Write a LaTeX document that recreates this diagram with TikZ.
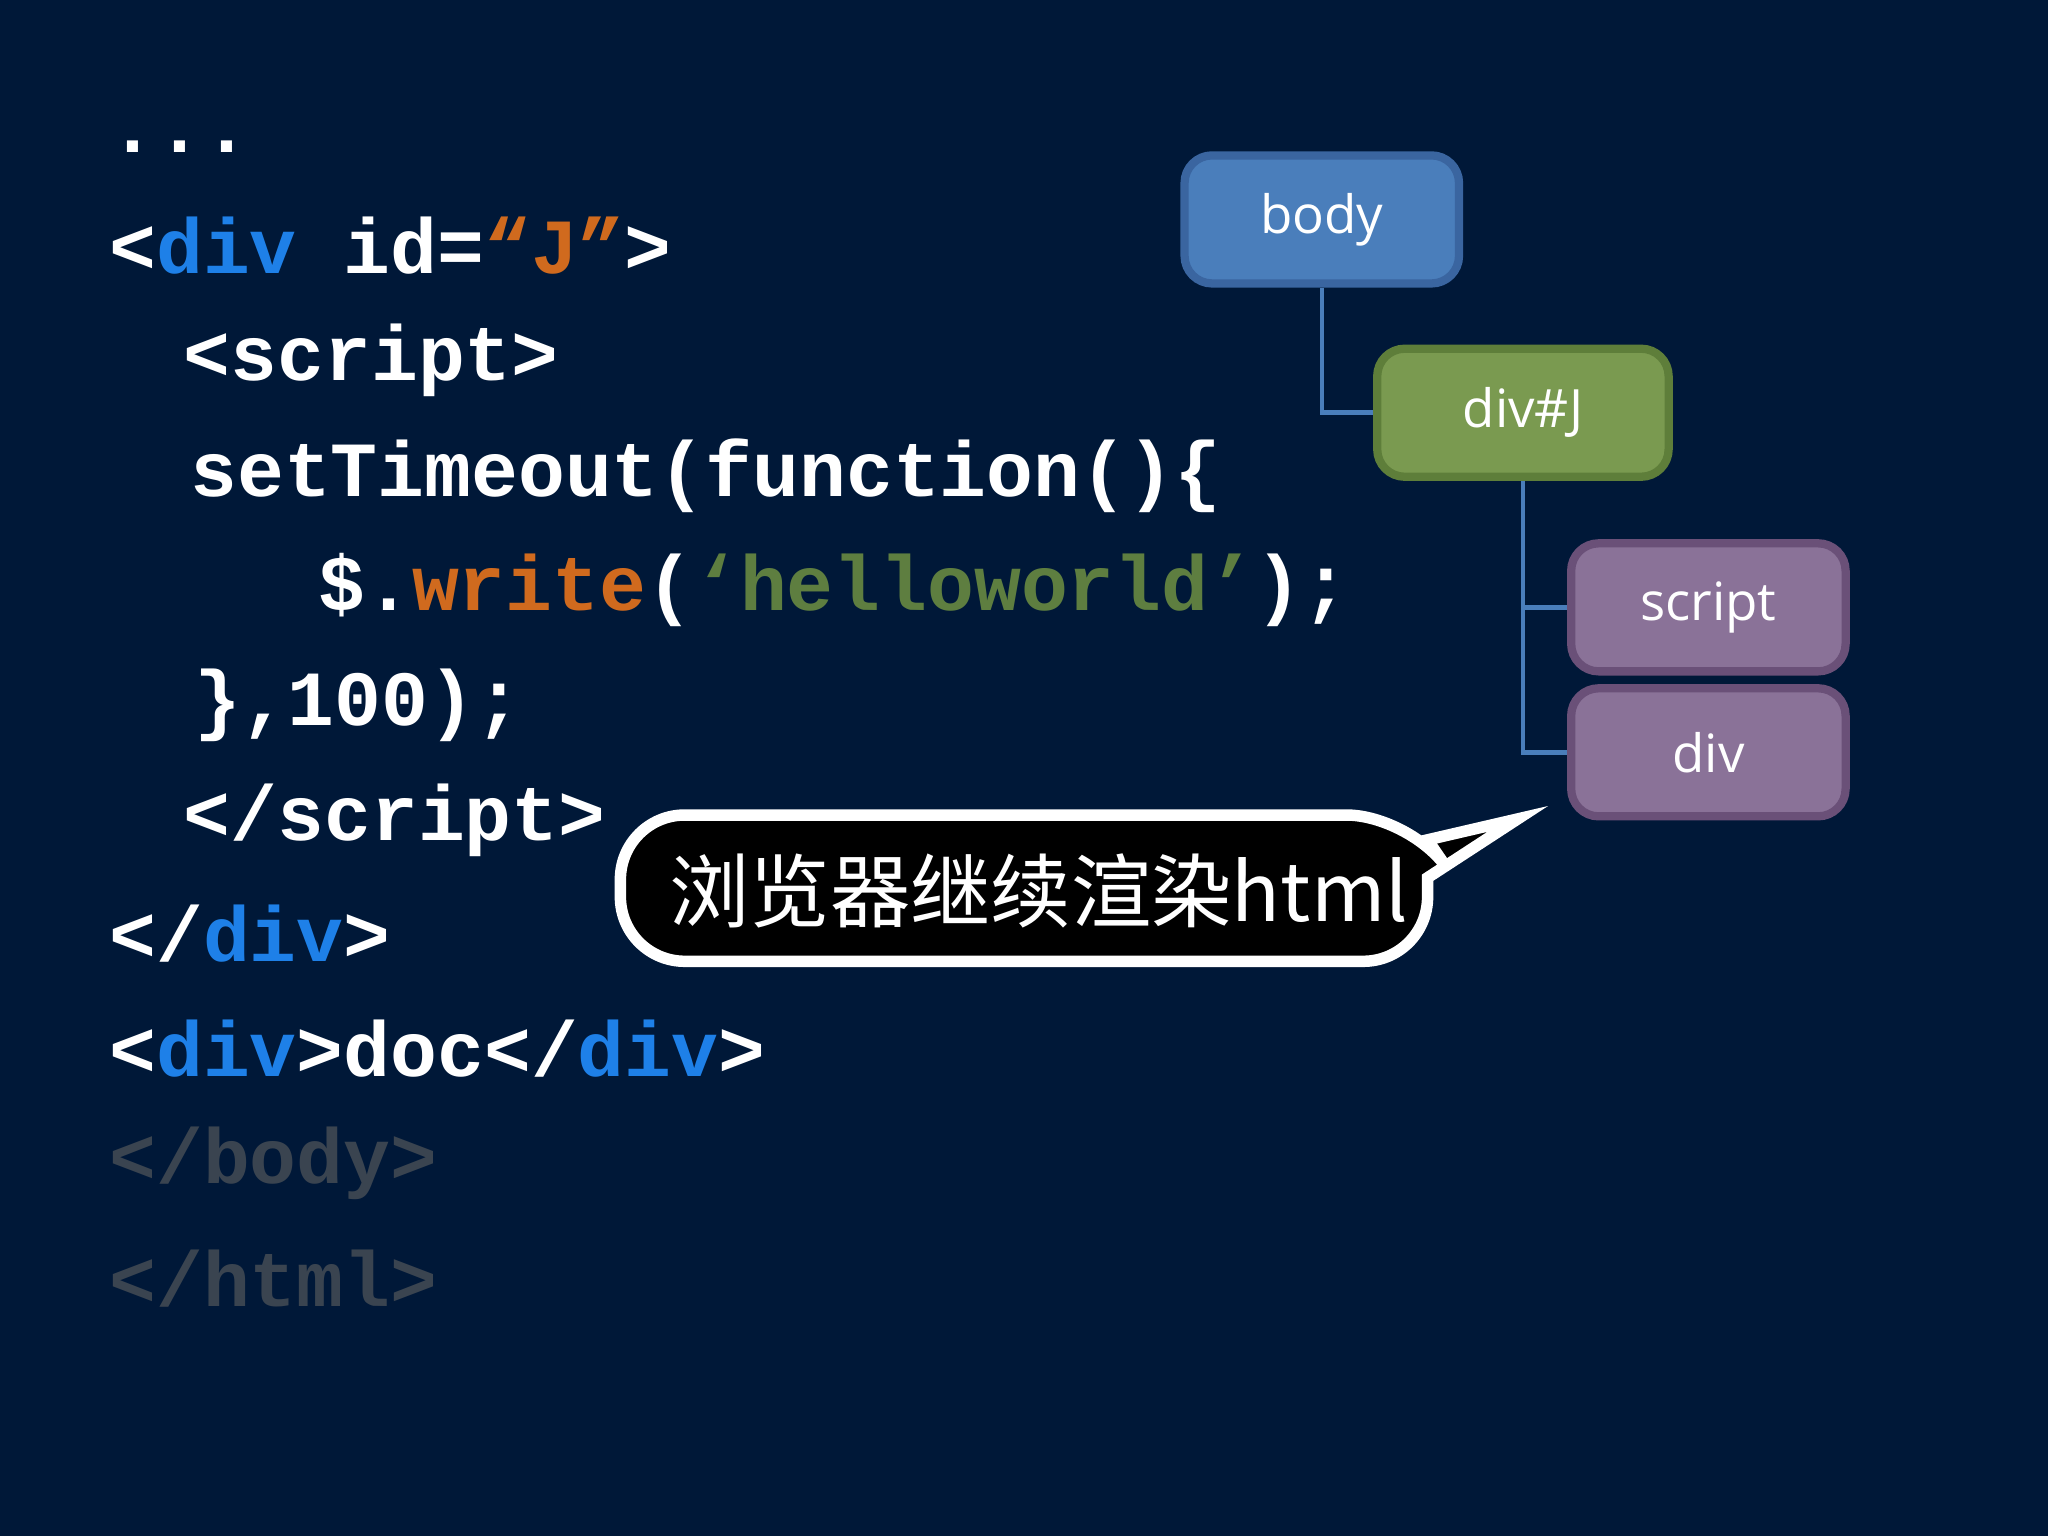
\documentclass[tikz,border=0pt]{standalone}
\usepackage{fontspec}
\setmonofont{Liberation Mono}
\setsansfont{Open Sans}
\newfontfamily\cjk{Noto Sans CJK SC}
\definecolor{bg}{HTML}{001838}
\definecolor{kwblue}{HTML}{1E80E8}
\definecolor{kworange}{HTML}{D06A1E}
\definecolor{kwgreen}{HTML}{5E7E40}
\definecolor{dimgray}{HTML}{3A4450}
\definecolor{bodyfill}{HTML}{4A7EBB}
\definecolor{bodyline}{HTML}{3A65A0}
\definecolor{jfill}{HTML}{7A9A50}
\definecolor{jline}{HTML}{5E7E3A}
\definecolor{pfill}{HTML}{8A7298}
\definecolor{pline}{HTML}{6A5078}
\begin{document}
\begin{tikzpicture}[x=0.01cm,y=-0.01cm,
  code/.style={anchor=west,inner sep=0,text=white,font=\ttfamily\bfseries\fontsize{17}{20}\selectfont},
  tbox/.style={draw,line width=1.8pt,rounded corners=6pt,minimum width=2.1cm,minimum height=0.98cm,text=white,font=\sffamily\fontsize{11.5}{14}\selectfont},
  link/.style={draw=bodyfill,line width=1pt}]
\fill[bg] (0,0) rectangle (1568,1176);
\node[code] (l0) at (83,112) {...};
\node[code] (l1) at (83,188) {<\textcolor{kwblue}{div} id=\textcolor{kworange}{“J”}>};
\node[code] (l2) at (140,276) {<script>};
\node[code] (l3) at (145,364) {setTimeout(function()\{};
\node[code] (l4) at (243,452) {\$.\textcolor{kworange}{write}(\textcolor{kwgreen}{‘helloworld’});};
\node[code] (l5) at (148,540) {\},100);};
\node[code] (l6) at (140,628) {</script>};
\node[code] (l7) at (83,715) {</\textcolor{kwblue}{div}>};
\node[code] (l8) at (83,803) {<\textcolor{kwblue}{div}>doc</\textcolor{kwblue}{div}>};
\node[code,text=dimgray] (l9) at (83,891) {</body>};
\node[code,text=dimgray] (l10) at (83,979) {</html>};
\node[tbox,draw=bodyline,fill=bodyfill] (body) at (1012,168) {body};
\node[tbox,draw=jline,fill=jfill,minimum width=2.23cm] (divj) at (1166,316) {div\#J};
\node[tbox,draw=pline,fill=pfill] (script) at (1308,465) {script};
\node[tbox,draw=pline,fill=pfill] (div) at (1308,576) {div};
\draw[link] (body.south) |- (divj.west);
\draw[link] (divj.south) |- (script.west);
\draw[link] (divj.south) |- (div.west);
\coordinate (tip) at (1162,627);
\draw[white,line width=2.5pt,fill=black,rounded corners=14pt]
  (475,736) -- (475,624) -- (1080,624) [sharp corners] -- (1093,643) -- (tip) -- (1093,672) [rounded corners=14pt] -- (1093,736) -- cycle;
\node[text=white,font=\cjk\fontsize{17.5}{20}\selectfont,anchor=west] (call) at (500,682) {浏览器继续渲染html};
\end{tikzpicture}
\end{document}
